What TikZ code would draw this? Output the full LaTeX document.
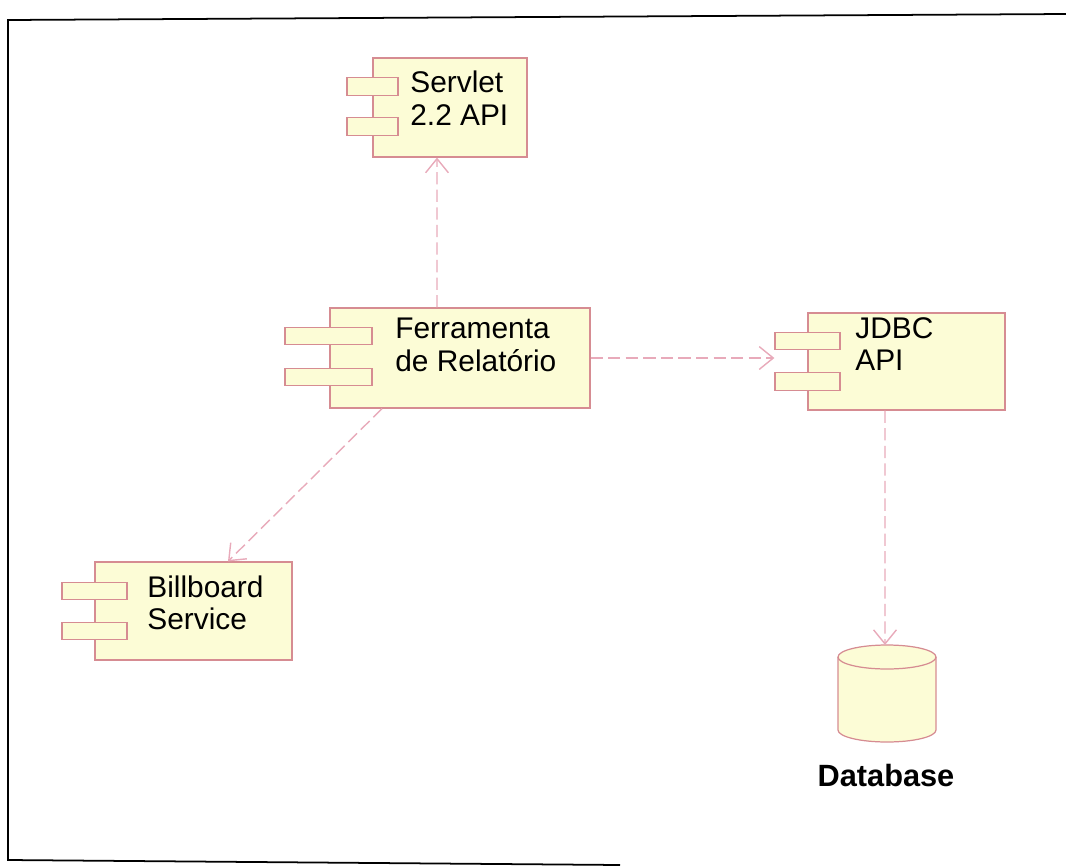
\documentclass[tikz,border=0pt]{standalone}
\usepackage{fontspec}
\setmainfont{Liberation Sans}
\usetikzlibrary{arrows.meta}
\definecolor{compfill}{RGB}{252,252,214}
\definecolor{compline}{RGB}{214,140,146}
\definecolor{depline}{RGB}{232,170,186}
\begin{document}
\begin{tikzpicture}[x=0.02cm,y=-0.02cm,
  comp/.style={draw=compline, fill=compfill, line width=0.7pt, rectangle, inner sep=0},
  tab/.style={comp, minimum height=0.35cm},
  lbl/.style={anchor=north west, align=left, inner sep=0, font=\fontsize{17}{18.5}\selectfont},
  dep/.style={draw=depline, line width=0.8pt, dash pattern=on 7pt off 3pt,
    -{Straight Barb[length=8pt,width=13pt,line width=0.8pt]}}]
\useasboundingbox (0,0) rectangle (1066,866);
% frame
\draw[line width=1pt] (1066,14) -- (8,20) -- (8,860) -- (620,865);
% components
\node[comp, minimum width=3.08cm, minimum height=1.98cm] (servlet) at (450,107.5) {};
\node[tab, minimum width=1.02cm] (stabA) at (372.5,86.5) {};
\node[tab, minimum width=1.02cm] (stabB) at (372.5,126.5) {};
\node[lbl] (servletlbl) at (410,71) {Servlet\\2.2 API};
\node[comp, minimum width=5.2cm, minimum height=2cm] (ferr) at (460,358) {};
\node[tab, minimum width=1.74cm] (ftabA) at (328.5,336) {};
\node[tab, minimum width=1.74cm] (ftabB) at (328.5,377) {};
\node[lbl] (ferrlbl) at (395,318) {Ferramenta\\de Relatório};
\node[comp, minimum width=3.94cm, minimum height=1.94cm] (jdbc) at (906.5,361.5) {};
\node[tab, minimum width=1.3cm] (jtabA) at (807.5,341) {};
\node[tab, minimum width=1.3cm] (jtabB) at (807.5,381.5) {};
\node[lbl] (jdbclbl) at (855,317) {JDBC\\API};
\node[comp, minimum width=3.94cm, minimum height=1.96cm] (bill) at (193.5,611) {};
\node[tab, minimum width=1.3cm] (btabA) at (94.5,591) {};
\node[tab, minimum width=1.3cm] (btabB) at (94.5,631) {};
\node[lbl] (billlbl) at (147,575) {Billboard\\Service};
% database
\fill[compfill] (838,657) -- (838,730) arc[start angle=180, end angle=0, x radius=49, y radius=12]
  -- (936,657) arc[start angle=0, end angle=-180, x radius=49, y radius=12] -- cycle;
\draw[compline, line width=0.7pt] (838,657) -- (838,730) arc[start angle=180, end angle=0, x radius=49, y radius=12] -- (936,657);
\draw[compline, line width=0.7pt] (887,657) ellipse[x radius=49, y radius=12];
\coordinate (dbtop) at (885,645);
\node[font=\bfseries\fontsize{17.5}{19}\selectfont] (dblbl) at (886,776) {Database};
% dependencies
\draw[dep] ([xshift=-0.46cm]ferr.north) -- ([xshift=-0.26cm]servlet.south);
\draw[dep] (ferr.east) -- (ferr.east -| jtabA.west);
\draw[dep] ([xshift=-1.56cm]ferr.south) -- ([xshift=0.69cm]bill.north);
\draw[dep] ([xshift=-0.43cm]jdbc.south) -- (dbtop);
\end{tikzpicture}
\end{document}
